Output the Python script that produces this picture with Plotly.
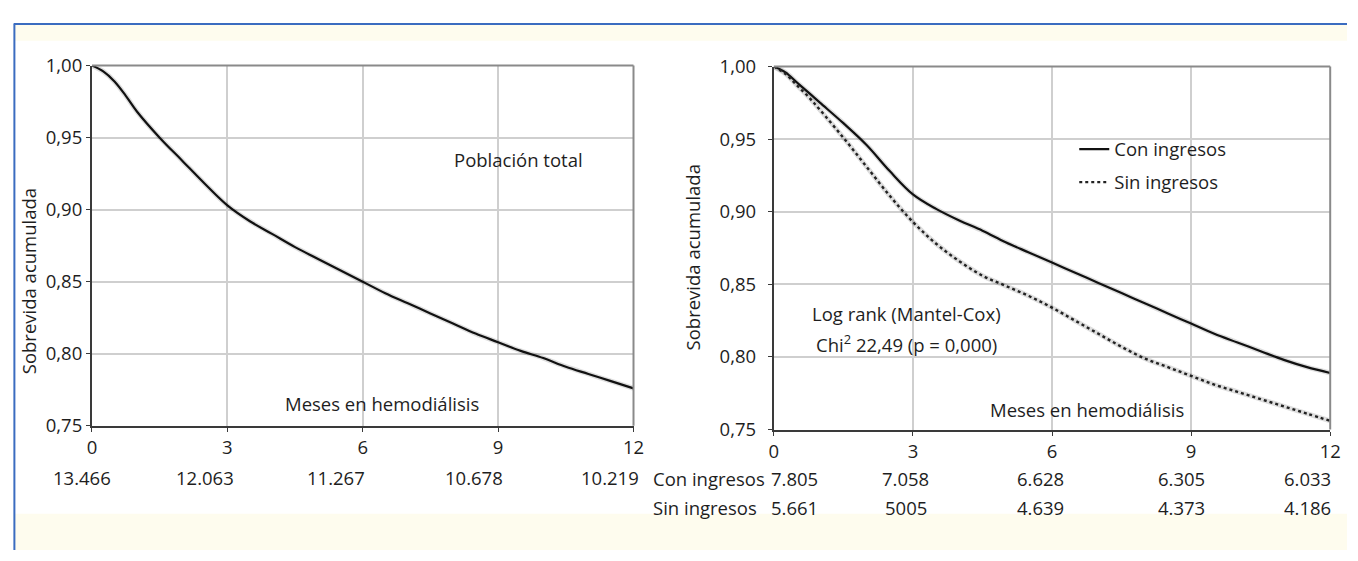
import plotly.graph_objects as go

# ---------------- data ----------------
months = [0, 0.25, 0.5, 0.75, 1, 1.5, 2, 2.5, 3, 3.5, 4, 4.5, 5, 5.5, 6,
          6.5, 7, 7.5, 8, 8.5, 9, 9.5, 10, 10.5, 11, 11.5, 12]
surv_total = [1.000, 0.996, 0.989, 0.979, 0.968, 0.950, 0.934, 0.918, 0.903,
              0.892, 0.883, 0.874, 0.866, 0.858, 0.850, 0.842, 0.835, 0.828,
              0.821, 0.814, 0.808, 0.802, 0.797, 0.791, 0.786, 0.781, 0.776]
surv_con = [1.000, 0.996, 0.989, 0.982, 0.975, 0.961, 0.946, 0.928, 0.912,
            0.902, 0.894, 0.887, 0.879, 0.872, 0.865, 0.858, 0.851, 0.844,
            0.837, 0.830, 0.823, 0.816, 0.810, 0.804, 0.798, 0.793, 0.789]
surv_sin = [1.000, 0.995, 0.987, 0.979, 0.970, 0.951, 0.931, 0.911, 0.893,
            0.878, 0.866, 0.856, 0.849, 0.842, 0.834, 0.825, 0.816, 0.807,
            0.799, 0.793, 0.787, 0.781, 0.776, 0.771, 0.766, 0.761, 0.756]

x_ticks = [0, 3, 6, 9, 12]
y_ticks = [0.75, 0.80, 0.85, 0.90, 0.95, 1.00]
y_tick_text = ["0,75", "0,80", "0,85", "0,90", "0,95", "1,00"]

risk_total = ["13.466", "12.063", "11.267", "10.678", "10.219"]
risk_con = ["7.805", "7.058", "6.628", "6.305", "6.033"]
risk_sin = ["5.661", "5005", "4.639", "4.373", "4.186"]
row_labels = ["Con ingresos", "Sin ingresos"]
series_names = ["Con ingresos", "Sin ingresos"]

panel_title = "Población total"
x_title = "Meses en hemodiálisis"
y_title = "Sobrevida acumulada"
test_lines = ["Log rank (Mantel-Cox)", "Chi<sup>2</sup> 22,49 (p = 0,000)"]

# ---------------- layout helpers ----------------
W, H = 1358, 561
FONT = "Open Sans"
FS = 18.5
TXT = "#1e1e1e"
HALO = "rgba(0,0,0,0.13)"


def fx(px):
    return px / W


def fy(py):
    return 1 - py / H


fig = go.Figure()

# soft grey halo under the curves (as in the scanned original)
for ys, xa, ya in ((surv_total, "x", "y"), (surv_con, "x2", "y2"), (surv_sin, "x2", "y2")):
    fig.add_trace(go.Scatter(x=months, y=ys, mode="lines", line_shape="spline",
                             line=dict(color=HALO, width=5), hoverinfo="skip",
                             showlegend=False, xaxis=xa, yaxis=ya))

fig.add_trace(go.Scatter(x=months, y=surv_total, mode="lines", line_shape="spline",
                         line=dict(color="#111111", width=2.2),
                         showlegend=False, xaxis="x", yaxis="y"))
fig.add_trace(go.Scatter(x=months, y=surv_con, mode="lines", name=series_names[0],
                         line_shape="spline",
                         line=dict(color="#111111", width=2.2),
                         legendgroup="a", xaxis="x2", yaxis="y2"))
fig.add_trace(go.Scatter(x=months, y=surv_sin, mode="lines", name=series_names[1],
                         line_shape="spline",
                         line=dict(color="#222222", width=2.4, dash="dot"),
                         legendgroup="b", xaxis="x2", yaxis="y2"))

axis_common = dict(showline=True, linecolor="#3a3a3a", linewidth=2,
                   showgrid=True, gridcolor="#cfcfcf", gridwidth=1.5,
                   ticks="outside", ticklen=4, tickcolor="#3a3a3a",
                   tickfont=dict(family=FONT, size=FS, color=TXT),
                   zeroline=False, fixedrange=True)

fig.update_layout(
    autosize=True,
    margin=dict(l=0, r=0, t=0, b=0),
    paper_bgcolor="white", plot_bgcolor="white",
    font=dict(family=FONT, size=FS, color=TXT),
    xaxis=dict(domain=[fx(88), fx(636)], range=[0, 12], tickvals=x_ticks,
               anchor="y", **axis_common),
    yaxis=dict(domain=[fy(431), fy(54)], range=[0.75, 1.0], tickvals=y_ticks,
               ticktext=y_tick_text, anchor="x", ticklabelstandoff=0, **axis_common),
    xaxis2=dict(domain=[fx(778), fx(1341)], range=[0, 12], tickvals=x_ticks,
                anchor="y2", **axis_common),
    yaxis2=dict(domain=[fy(435), fy(55)], range=[0.75, 1.0], tickvals=y_ticks,
                ticktext=y_tick_text, anchor="x2", ticklabelstandoff=8, **axis_common),
    showlegend=True,
    legend=dict(x=fx(1082), y=fy(122), xanchor="left", yanchor="top",
                bgcolor="rgba(0,0,0,0)", font=dict(family=FONT, size=FS, color=TXT),
                tracegroupgap=6, itemwidth=30, traceorder="grouped"),
)

shapes = []
# cream bands and blue frame
shapes.append(dict(type="rect", xref="paper", yref="paper", x0=fx(10), x1=1, y0=fy(28), y1=fy(11),
                   fillcolor="#fefcee", line=dict(width=0), layer="below"))
shapes.append(dict(type="rect", xref="paper", yref="paper", x0=fx(10), x1=1, y0=0, y1=fy(523),
                   fillcolor="#fefcee", line=dict(width=0), layer="below"))
shapes.append(dict(type="line", xref="paper", yref="paper", x0=fx(9), x1=1, y0=fy(10.5), y1=fy(10.5),
                   line=dict(color="#3b6cc0", width=2)))
shapes.append(dict(type="line", xref="paper", yref="paper", x0=fx(9.5), x1=fx(9.5), y0=0, y1=fy(10),
                   line=dict(color="#3b6cc0", width=2)))
# grey top/right frame of each panel
for xr, yr in (("x", "y"), ("x2", "y2")):
    shapes.append(dict(type="line", xref=f"{xr} domain", yref=f"{yr} domain",
                       x0=0, x1=1, y0=1, y1=1, line=dict(color="#8a8a8a", width=2)))
    shapes.append(dict(type="line", xref=f"{xr} domain", yref=f"{yr} domain",
                       x0=1, x1=1, y0=0, y1=1, line=dict(color="#8a8a8a", width=2)))
fig.update_layout(shapes=shapes)

ann = []


def text(x, y, s, xanchor="center", angle=0):
    ann.append(dict(x=fx(x), y=fy(y), xref="paper", yref="paper", text=s,
                    showarrow=False, xanchor=xanchor, yanchor="middle", textangle=angle,
                    font=dict(family=FONT, size=FS, color=TXT)))


text(520, 152, panel_title)
text(382, 408, x_title)
text(1095, 414, x_title)
text(912, 313, test_lines[0])
text(912, 345, test_lines[1])
text(24, 280, y_title, angle=-90)
text(696, 255, y_title, angle=-90)

# number-at-risk tables (pixel shifts relative to tick positions)
left_shift = [-10, -22, -27, -24, -24]
for m, s, dx in zip(x_ticks, risk_total, left_shift):
    ann.append(dict(x=m, y=fy(485), xref="x", yref="paper", text=s, showarrow=False,
                    xanchor="center", yanchor="middle", xshift=dx,
                    font=dict(family=FONT, size=FS, color=TXT)))
right_shift = [21, -7, -12, -10, -23]
for row_y, vals in ((486, risk_con), (516, risk_sin)):
    for m, s, dx in zip(x_ticks, vals, right_shift):
        ann.append(dict(x=m, y=fy(row_y), xref="x2", yref="paper", text=s, showarrow=False,
                        xanchor="center", yanchor="middle", xshift=dx,
                        font=dict(family=FONT, size=FS, color=TXT)))
text(654, 486, row_labels[0], xanchor="left")
text(654, 516, row_labels[1], xanchor="left")

fig.update_layout(annotations=ann)
fig.write_html(
    "out.html",
    config={"displayModeBar": False, "responsive": True},
    default_width="100vw",
    default_height="100vh",
    post_script="document.body.style.margin='0';"
                "document.documentElement.style.overflow='hidden';"
                "document.body.style.overflow='hidden';"
                "Plotly.Plots.resize(document.getElementById('{plot_id}'));",
)
